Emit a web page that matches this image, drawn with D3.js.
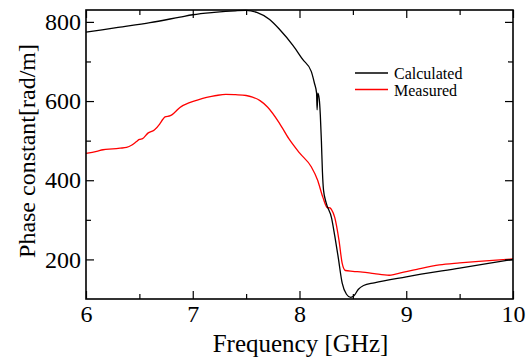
<!DOCTYPE html>
<html>
<head>
<meta charset="utf-8">
<script src="https://cdn.jsdelivr.net/npm/d3@7"></script>
<style>
  body { margin: 0; background: #fff; }
  svg text { font-family: "Liberation Serif", "Times New Roman", Times, serif; fill: #000; }
</style>
</head>
<body>
<div class="chart"></div>
<script>
// tick values
var xMajor = [6, 7, 8, 9, 10];
var xMinor = [6.5, 7.5, 8.5, 9.5];
var yMajor = [200, 400, 600, 800];
var yMinor = [300, 500, 700];

// Calculated (GHz, rad/m)
var calcFreq = [6.0, 6.3, 6.6, 6.88, 7.0, 7.2, 7.4, 7.5, 7.6, 7.72, 7.81, 7.94, 8.03, 8.11, 8.14, 8.16, 8.165, 8.172, 8.185, 8.195, 8.205, 8.215, 8.225, 8.25, 8.3, 8.33, 8.36, 8.4, 8.44, 8.48, 8.51, 8.55, 8.6, 8.7, 9.0, 9.5, 10.0];
var calcVal = [774, 786, 798, 812, 818, 824, 828, 829, 824, 806, 782, 740, 705, 675, 645, 620, 578, 620, 605, 565, 500, 420, 375, 343, 305, 260, 210, 140, 112, 104, 108, 124, 134, 141, 156, 178, 200];

// Measured (GHz, rad/m)
var measFreq = [6.0, 6.1, 6.16, 6.25, 6.32, 6.38, 6.43, 6.47, 6.5, 6.53, 6.58, 6.64, 6.69, 6.72, 6.74, 6.79, 6.83, 6.88, 6.97, 7.05, 7.13, 7.22, 7.31, 7.4, 7.5, 7.56, 7.63, 7.7, 7.81, 7.9, 8.0, 8.11, 8.17, 8.22, 8.26, 8.285, 8.3, 8.33, 8.37, 8.4, 8.43, 8.5, 8.59, 8.7, 8.84, 8.9, 9.1, 9.31, 9.5, 9.68, 10.0];
var measVal = [468, 473, 477, 479, 481, 483, 489, 497, 503, 505, 519, 527, 542, 554, 560, 563, 571, 584, 596, 603, 609, 614, 617, 616, 614, 610, 601, 585, 545, 505, 469, 434, 400, 356, 331, 330, 326, 306, 248, 190, 172, 170, 168, 164, 160, 163, 175, 186, 191, 195, 201];

var seriesNames = ['Calculated', 'Measured'];
var seriesColors = ['#000000', '#ff0000'];

var width = 532;
var height = 358;
var margin = { left: 86, right: 19, top: 10, bottom: 59 };
var plotW = width - margin.left - margin.right;
var plotH = height - margin.top - margin.bottom;

var x = d3.scaleLinear().domain([6, 10]).range([0, plotW]);
var y = d3.scaleLinear().domain([100, 830]).range([plotH, 0]);

var svg = d3.select('.chart').append('svg')
  .attr('width', width)
  .attr('height', height);

var g = svg.append('g').attr('transform', 'translate(' + margin.left + ',' + margin.top + ')');

// curves
var line = d3.line()
  .x(function(d) { return x(d[0]); })
  .y(function(d) { return y(d[1]); })
  .curve(d3.curveMonotoneX);

var calc = d3.zip(calcFreq, calcVal);
var meas = d3.zip(measFreq, measVal);

g.append('path').datum(meas)
  .attr('d', line)
  .attr('fill', 'none')
  .attr('stroke', seriesColors[1])
  .attr('stroke-width', 1.3);

g.append('path').datum(calc)
  .attr('d', line)
  .attr('fill', 'none')
  .attr('stroke', seriesColors[0])
  .attr('stroke-width', 1.3);

// axes, ticks pointing inward
function styleAxis(sel) {
  sel.select('.domain').remove();
  sel.selectAll('.tick line').attr('stroke', '#000').attr('stroke-width', 1.2);
  sel.selectAll('.tick text').attr('font-size', 24);
}

var xAxis = g.append('g').attr('transform', 'translate(0,' + plotH + ')')
  .call(d3.axisBottom(x).tickValues(xMajor).tickSize(-8).tickFormat(d3.format('d')));
styleAxis(xAxis);
xAxis.selectAll('.tick text').attr('y', 23).attr('dy', 0);

var xAxisMinor = g.append('g').attr('transform', 'translate(0,' + plotH + ')')
  .call(d3.axisBottom(x).tickValues(xMinor).tickSize(-5).tickFormat(''));
styleAxis(xAxisMinor);

var xTop = g.append('g')
  .call(d3.axisTop(x).tickValues(xMajor).tickSize(-8).tickFormat(''));
styleAxis(xTop);
var xTopMinor = g.append('g')
  .call(d3.axisTop(x).tickValues(xMinor).tickSize(-5).tickFormat(''));
styleAxis(xTopMinor);

var yAxis = g.append('g')
  .call(d3.axisLeft(y).tickValues(yMajor).tickSize(-8).tickFormat(d3.format('d')));
styleAxis(yAxis);
yAxis.selectAll('.tick text').attr('x', -5).attr('dy', '0.32em');

var yAxisMinor = g.append('g')
  .call(d3.axisLeft(y).tickValues(yMinor).tickSize(-5).tickFormat(''));
styleAxis(yAxisMinor);

var yRight = g.append('g').attr('transform', 'translate(' + plotW + ',0)')
  .call(d3.axisRight(y).tickValues(yMajor).tickSize(-8).tickFormat(''));
styleAxis(yRight);
var yRightMinor = g.append('g').attr('transform', 'translate(' + plotW + ',0)')
  .call(d3.axisRight(y).tickValues(yMinor).tickSize(-5).tickFormat(''));
styleAxis(yRightMinor);

// frame
g.append('rect')
  .attr('x', 0).attr('y', 0)
  .attr('width', plotW).attr('height', plotH)
  .attr('fill', 'none')
  .attr('stroke', '#000')
  .attr('stroke-width', 1.6);

// axis titles
svg.append('text')
  .attr('x', margin.left + plotW / 2 + 1)
  .attr('y', 352)
  .attr('text-anchor', 'middle')
  .attr('font-size', 25)
  .text('Frequency [GHz]');

svg.append('text')
  .attr('transform', 'translate(35,151) rotate(-90)')
  .attr('text-anchor', 'middle')
  .attr('font-size', 24)
  .text('Phase constant[rad/m]');

// legend
var legend = svg.append('g').attr('transform', 'translate(355,73)');
seriesNames.forEach(function(name, i) {
  legend.append('line')
    .attr('x1', 0).attr('x2', 33)
    .attr('y1', i * 16.5).attr('y2', i * 16.5)
    .attr('stroke', seriesColors[i])
    .attr('stroke-width', 1.3);
  legend.append('text')
    .attr('x', 39)
    .attr('y', i * 16.5 + 6)
    .attr('font-size', 16)
    .text(name);
});
</script>
</body>
</html>
